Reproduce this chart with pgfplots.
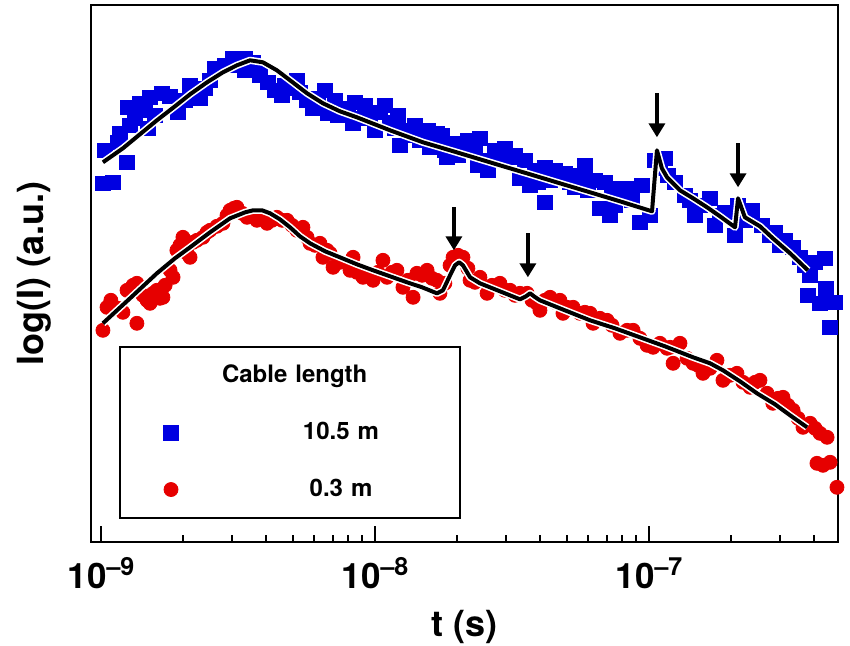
\documentclass[border=0pt]{standalone}
\usepackage{pgfplots}
\pgfplotsset{compat=1.18}
\usepackage{pgfplotstable}
\usepackage{fontspec}
\setmainfont{TeX Gyre Heros}
\usetikzlibrary{arrows.meta}
\definecolor{cblue}{RGB}{0,0,225}
\definecolor{cred}{RGB}{230,0,0}
\pgfplotsset{mark legend/.style={legend image code/.code={\path[draw=none,fill=none] (0pt,0pt) -- (51pt,0pt);
    \draw[##1, line width=0.4pt] plot coordinates {(25.5pt,0pt)};}}}

% x = log10(t / s), y = log(I) in arbitrary units
\pgfplotstableread{
lt v
-8.993 359
-8.985 392
-8.956 360
-8.938 400
-8.931 409
-8.905 380
-8.901 435
-8.894 417
-8.876 424
-8.858 439
-8.839 432
-8.828 414
-8.821 445
-8.803 427
-8.777 449
-8.748 446
-8.719 430
-8.693 442
-8.675 457
-8.639 444
-8.620 454
-8.602 462
-8.584 474
-8.547 477
-8.518 484
-8.493 477
-8.474 484
-8.474 472
-8.445 480
-8.420 467
-8.420 474
-8.391 460
-8.365 452
-8.339 447
-8.328 457
-8.310 454
-8.285 462
-8.274 450
-8.248 442
-8.226 434
-8.208 444
-8.182 452
-8.172 429
-8.146 442
-8.135 427
-8.109 427
-8.099 434
-8.080 419
-8.073 440
-8.055 424
-8.036 437
-8.018 424
-8.000 412
-7.982 430
-7.964 437
-7.945 420
-7.927 414
-7.916 427
-7.909 397
-7.880 407
-7.872 412
-7.854 417
-7.836 402
-7.818 402
-7.807 412
-7.799 395
-7.774 409
-7.755 407
-7.745 392
-7.737 385
-7.726 397
-7.708 399
-7.697 387
-7.682 397
-7.661 402
-7.653 392
-7.635 392
-7.624 377
-7.617 404
-7.599 382
-7.588 372
-7.562 392
-7.544 384
-7.526 394
-7.507 385
-7.489 387
-7.471 364
-7.453 382
-7.434 357
-7.416 372
-7.405 360
-7.380 375
-7.380 340
-7.361 362
-7.343 372
-7.325 364
-7.307 369
-7.288 360
-7.270 355
-7.252 367
-7.234 377
-7.223 352
-7.197 362
-7.179 334
-7.161 360
-7.142 327
-7.135 354
-7.124 337
-7.106 347
-7.077 354
-7.062 342
-7.033 320
-7.026 357
-6.996 327
-6.978 382
-6.960 374
-6.942 384
-6.931 367
-6.905 360
-6.869 347
-6.850 342
-6.832 327
-6.814 337
-6.777 344
-6.759 317
-6.741 327
-6.723 330
-6.686 307
-6.675 337
-6.650 322
-6.624 332
-6.588 317
-6.558 307
-6.540 310
-6.522 297
-6.504 302
-6.474 295
-6.449 285
-6.431 277
-6.420 247
-6.412 267
-6.394 280
-6.376 239
-6.358 284
-6.354 254
-6.339 215
-6.321 240
}\bluedata

\pgfplotstableread{
lt v
-8.993 212
-8.978 235
-8.964 242
-8.938 234
-8.920 230
-8.905 252
-8.883 257
-8.869 259
-8.869 219
-8.847 247
-8.832 242
-8.821 239
-8.810 249
-8.796 252
-8.785 244
-8.774 245
-8.766 257
-8.748 272
-8.737 265
-8.723 292
-8.712 297
-8.701 305
-8.686 289
-8.675 285
-8.664 300
-8.650 302
-8.628 305
-8.613 310
-8.602 312
-8.577 316
-8.555 319
-8.540 327
-8.529 332
-8.515 334
-8.504 335
-8.485 329
-8.467 325
-8.449 327
-8.431 322
-8.412 324
-8.394 319
-8.376 322
-8.358 325
-8.339 322
-8.321 322
-8.303 317
-8.285 312
-8.263 315
-8.248 305
-8.237 299
-8.219 297
-8.201 299
-8.190 285
-8.175 292
-8.164 289
-8.153 275
-8.128 280
-8.102 279
-8.091 272
-8.080 285
-8.066 270
-8.044 265
-8.026 267
-8.007 262
-7.989 270
-7.971 282
-7.956 265
-7.938 270
-7.920 272
-7.898 255
-7.880 262
-7.861 245
-7.847 269
-7.828 267
-7.810 272
-7.792 264
-7.774 262
-7.763 249
-7.745 259
-7.726 277
-7.715 285
-7.697 287
-7.679 285
-7.661 274
-7.653 262
-7.635 260
-7.617 265
-7.591 249
-7.573 257
-7.544 259
-7.526 252
-7.507 252
-7.489 247
-7.471 249
-7.445 249
-7.427 242
-7.409 239
-7.398 232
-7.380 242
-7.361 245
-7.343 240
-7.325 242
-7.314 229
-7.299 235
-7.277 235
-7.252 229
-7.234 230
-7.215 229
-7.204 219
-7.179 224
-7.153 222
-7.135 217
-7.106 209
-7.080 212
-7.058 212
-7.033 204
-7.007 197
-6.985 195
-6.960 199
-6.934 194
-6.923 195
-6.912 179
-6.887 199
-6.861 184
-6.839 179
-6.821 177
-6.803 169
-6.777 174
-6.752 182
-6.730 162
-6.704 167
-6.679 169
-6.657 160
-6.631 155
-6.613 160
-6.595 162
-6.569 149
-6.548 139
-6.529 144
-6.511 145
-6.493 137
-6.474 132
-6.456 124
-6.438 115
-6.412 119
-6.394 114
-6.376 109
-6.350 105
-6.387 79
-6.365 77
-6.339 80
-6.314 55
}\reddata

\pgfplotstableread{
lt v
-8.993 380
-8.920 394
-8.858 408
-8.796 422
-8.730 436
-8.675 448
-8.613 460
-8.555 470
-8.504 477
-8.456 482
-8.409 480
-8.358 472
-8.310 462
-8.248 449
-8.190 439
-8.128 431
-8.066 425
-7.945 412
-7.825 400
-7.763 395
-7.653 386
-7.544 377
-7.434 368
-7.325 359
-7.215 350
-7.106 341
-6.989 331
-6.971 392
-6.953 374
-6.934 365
-6.912 359
-6.887 352
-6.839 344
-6.788 335
-6.741 326
-6.686 315
-6.675 344
-6.650 325
-6.595 316
-6.548 304
-6.485 289
-6.420 272
}\bluefit

\pgfplotstableread{
lt v
-8.993 219
-8.894 244
-8.796 269
-8.730 284
-8.675 295
-8.602 310
-8.529 324
-8.474 330
-8.445 332
-8.412 332
-8.383 329
-8.347 323
-8.310 315
-8.274 306
-8.237 299
-8.182 291
-8.128 285
-8.066 278
-8.007 272
-7.945 266
-7.883 260
-7.828 255
-7.774 249
-7.752 252
-7.726 267
-7.708 277
-7.693 280
-7.679 277
-7.653 265
-7.617 259
-7.544 251
-7.471 243
-7.449 246
-7.434 249
-7.420 246
-7.398 242
-7.307 232
-7.215 222
-7.124 214
-7.033 205
-6.942 196
-6.839 185
-6.777 179
-6.730 172
-6.668 161
-6.606 149
-6.540 138
-6.485 127
-6.423 115
}\redfit

\begin{document}
\begin{tikzpicture}
\begin{axis}[
  scale only axis,
  width=373.5pt, height=268.5pt,
  xmin=-9.0376, xmax=-6.3113,
  ymin=0, ymax=537,
  clip=false,
  clip marker paths=true,
  axis line style={line width=1pt},
  xtick pos=bottom,
  tick align=inside,
  major tick length=8pt,
  minor tick length=3.5pt,
  tick style={line width=1pt, black},
  ytick=\empty,
  xtick={-9,-8,-7},
  xticklabels={10\raisebox{6.5pt}{\fontsize{12.5}{12.5}\selectfont\bfseries –9},
               10\raisebox{6.5pt}{\fontsize{12.5}{12.5}\selectfont\bfseries –8},
               10\raisebox{6.5pt}{\fontsize{12.5}{12.5}\selectfont\bfseries –7}},
  minor xtick={-8.699,-8.523,-8.398,-8.301,-8.222,-8.155,-8.097,-8.046,
               -7.699,-7.523,-7.398,-7.301,-7.222,-7.155,-7.097,-7.046,
               -6.699,-6.523,-6.398},
  xticklabel style={font=\fontsize{17.5}{17.5}\selectfont\bfseries, yshift=-4pt},
  xlabel={t (s)},
  ylabel={log(I) (a.u.)},
  xlabel style={font=\fontsize{18}{18}\selectfont\bfseries, at={(axis description cs:0.5,-0.158)}, anchor=center},
  ylabel style={font=\fontsize{18}{18}\selectfont\bfseries, at={(axis description cs:-0.0752,0.5)}, anchor=center},
  legend style={at={(axis description cs:0.0379,0.3655)}, anchor=north west,
    draw=black, line width=1pt, inner xsep=0pt, inner ysep=0pt,
    column sep=0pt, row sep=0pt,
    font=\fontsize{12}{14}\selectfont\bfseries,
    nodes={minimum height=28.5pt, inner sep=0pt}},
  legend cell align=center,
]
\addplot[only marks, mark=square*, mark size=3.7pt, color=cblue, forget plot] table[x=lt, y=v] {\bluedata};
\addplot[only marks, mark=*, mark size=3.5pt, color=cred, forget plot] table[x=lt, y=v] {\reddata};

\addplot[white, line width=3.6pt, line join=round, forget plot] table[x=lt, y=v] {\bluefit};
\addplot[black, line width=2pt, line join=round, forget plot] table[x=lt, y=v] {\bluefit};
\addplot[white, line width=3.6pt, line join=round, forget plot] table[x=lt, y=v] {\redfit};
\addplot[black, line width=2pt, line join=round, forget plot] table[x=lt, y=v] {\redfit};

\draw[line width=2pt, -{Triangle[width=8pt,length=7pt]}] (axis cs:-6.971,449) -- (axis cs:-6.971,405);
\draw[line width=2pt, -{Triangle[width=8pt,length=7pt]}] (axis cs:-6.675,399) -- (axis cs:-6.675,355);
\draw[line width=2pt, -{Triangle[width=8pt,length=7pt]}] (axis cs:-7.712,335) -- (axis cs:-7.712,292);
\draw[line width=2pt, -{Triangle[width=8pt,length=7pt]}] (axis cs:-7.442,309) -- (axis cs:-7.442,265);

\addlegendimage{empty legend}
\addlegendentry[text width=119pt, align=left]{Cable length}
\addlegendimage{only marks, mark=square*, mark size=3.7pt, color=cblue, mark legend}
\addlegendentry[text width=119pt, align=center]{10.5 m}
\addlegendimage{only marks, mark=*, mark size=3.5pt, color=cred, mark legend}
\addlegendentry[text width=119pt, align=center]{0.3 m}
\end{axis}
\pgfresetboundingbox
\path (-45.35pt,-51.35pt) rectangle (379.65pt,271.15pt);
\end{tikzpicture}
\end{document}
